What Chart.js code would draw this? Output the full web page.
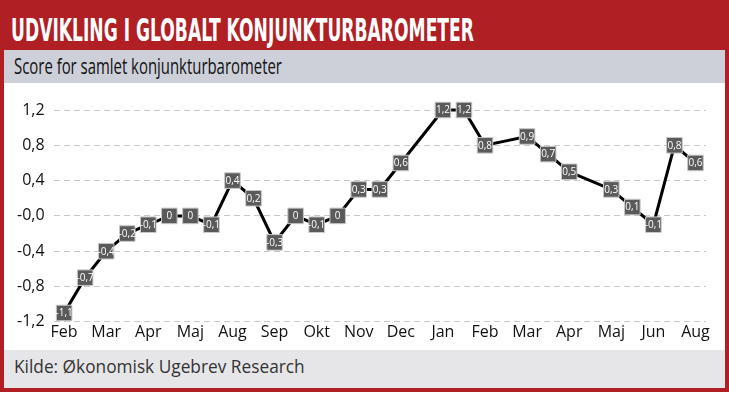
<!DOCTYPE html>
<html>
<head>
<meta charset="utf-8">
<script src="https://cdn.jsdelivr.net/npm/chart.js@4"></script>
<style>
  html, body { margin: 0; padding: 0; background: #fff; }
  #frame { position: relative; width: 729px; height: 393px; overflow: hidden; }
  #border { position: absolute; left: 0; top: 0; width: 721px; height: 384px; border: 4px solid #b01f24; }
  #title { position: absolute; left: 0; top: 0; width: 729px; height: 50px; background: #b01f24; }
  #title span { position: absolute; left: 11px; top: 12px; white-space: nowrap; color: #fff; font-family: "DejaVu Sans Condensed", sans-serif; font-weight: bold; font-size: 28px; transform: scale(0.68, 1.12); transform-origin: top left; }
  #sub { position: absolute; left: 4px; top: 50px; width: 721px; height: 33px; background: #cdd0d9; }
  #sub span { position: absolute; left: 10px; top: 2px; white-space: nowrap; font-family: "Open Sans", sans-serif; font-size: 21px; color: #111; transform: scaleX(0.71); transform-origin: top left; }
  #foot { position: absolute; left: 4px; top: 350px; width: 721px; height: 38px; background: #e6e6e8; }
  #foot span { position: absolute; left: 10px; top: 5px; font-family: "Open Sans", sans-serif; font-size: 17.3px; color: #333; }
  #wrap { position: absolute; left: 4px; top: 84px; width: 721px; height: 266px; }
</style>
</head>
<body>
<div id="frame">
  <div id="border"></div>
  <div id="title"><span>UDVIKLING I GLOBALT KONJUNKTURBAROMETER</span></div>
  <div id="sub"><span>Score for samlet konjunkturbarometer</span></div>
  <div id="wrap"><canvas id="myChart" width="721" height="266"></canvas></div>
  <div id="foot"><span>Kilde: Økonomisk Ugebrev Research</span></div>
</div>
<script>
// kategorier (kun hver anden har en synlig etiket)
const labels = ['Feb', '', 'Mar', '', 'Apr', '', 'Maj', '', 'Aug', '', 'Sep', '', 'Okt', '', 'Nov', '',
  'Dec', '', 'Jan', '', 'Feb', '', 'Mar', '', 'Apr', '', 'Maj', '', 'Jun', '', 'Aug'];
const scores = [-1.1, -0.7, -0.4, -0.2, -0.1, 0, 0, -0.1, 0.4, 0.2, -0.3, 0, -0.1, 0, 0.3, 0.3,
  0.6, 0.9, 1.2, 1.2, 0.8, 0.85, 0.9, 0.7, 0.5, 0.4, 0.3, 0.1, -0.1, 0.8, 0.6];
// punkter uden boks i originalen
const noLabel = [17, 21, 25];
const yTicks = [-1.2, -0.8, -0.4, 0, 0.4, 0.8, 1.2];

const fmt = v => v === 0 ? '0' : v.toFixed(1).replace('.', ',');

const boxLabels = {
  id: 'boxLabels',
  afterDatasetsDraw(chart) {
    const c = chart.ctx;
    const meta = chart.getDatasetMeta(0);
    c.save();
    c.font = '10px "Open Sans", sans-serif';
    c.fillStyle = '#fff';
    c.textAlign = 'center';
    c.textBaseline = 'middle';
    meta.data.forEach((pt, i) => {
      if (noLabel.includes(i)) return;
      c.fillText(fmt(scores[i]), pt.x, pt.y + 0.5);
    });
    c.restore();
  }
};

const ctx = document.getElementById('myChart').getContext('2d');
const myChart = new Chart(ctx, {
  type: 'line',
  data: {
    labels: labels,
    datasets: [{
      data: scores,
      clip: false,
      borderColor: '#000',
      borderWidth: 3,
      tension: 0,
      pointStyle: 'rect',
      pointRadius: scores.map((v, i) => noLabel.includes(i) ? 0 : 11),
      pointHoverRadius: 11,
      pointBackgroundColor: '#5a5a5a',
      pointBorderColor: '#c8c8c8',
      pointBorderWidth: 1
    }]
  },
  options: {
    responsive: false,
    animation: false,
    devicePixelRatio: 1,
    layout: { padding: { left: 4, right: 19, top: 26, bottom: 7 } },
    plugins: { legend: { display: false }, tooltip: { enabled: false } },
    scales: {
      x: {
        offset: true,
        grid: { display: false, drawTicks: false },
        border: { display: false },
        ticks: {
          autoSkip: false,
          maxRotation: 0,
          padding: 1,
          color: '#111',
          font: { family: '"Open Sans", sans-serif', size: 16 }
        }
      },
      y: {
        min: -1.2,
        max: 1.2,
        afterBuildTicks: axis => { axis.ticks = yTicks.map(v => ({ value: v })); },
        grid: { color: '#c8c8c8', lineWidth: 1, drawTicks: false },
        border: { display: false, dash: [6, 4] },
        ticks: {
          padding: 9,
          color: '#111',
          font: { family: '"Open Sans", sans-serif', size: 16 },
          callback: v => (v <= 0 ? '-' : '') + Math.abs(v).toFixed(1).replace('.', ',')
        }
      }
    }
  },
  plugins: [boxLabels]
});
</script>
</body>
</html>
